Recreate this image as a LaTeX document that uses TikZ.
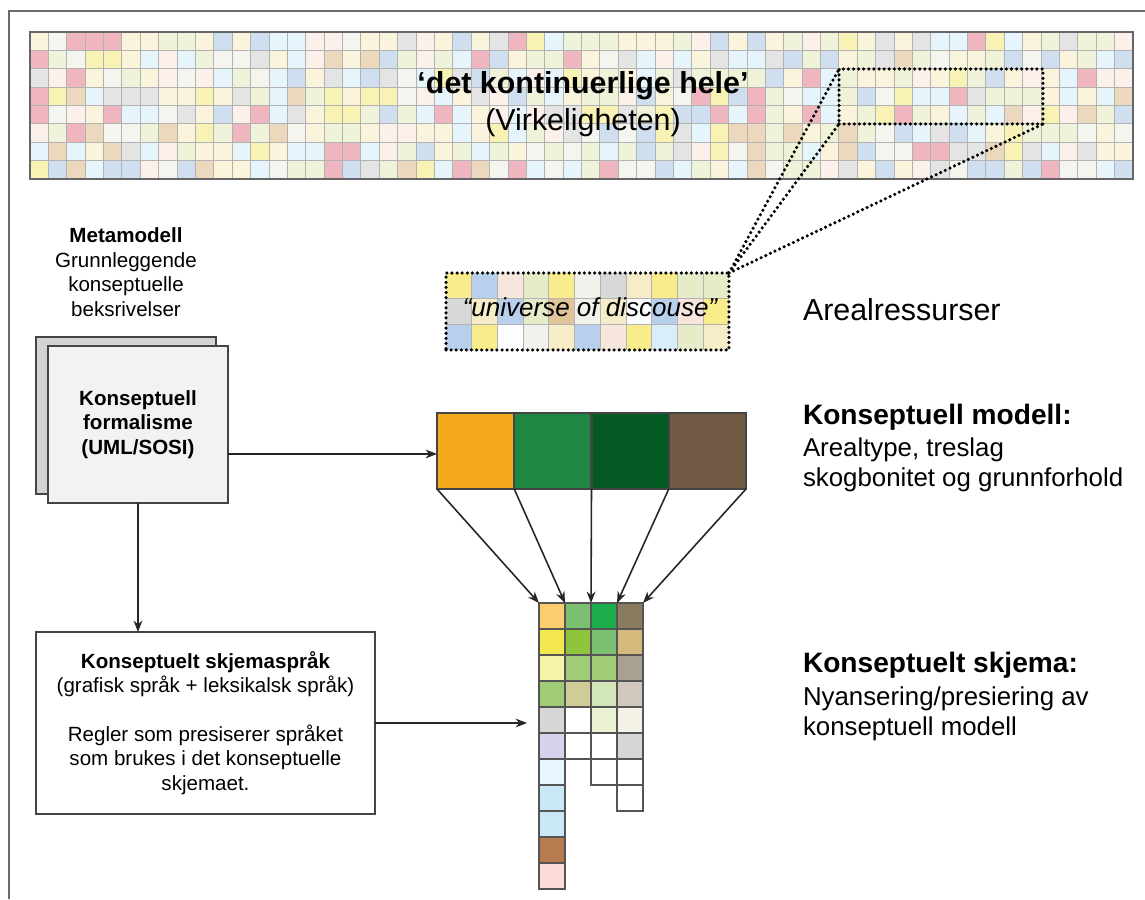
\documentclass[tikz,border=0pt]{standalone}
\usepackage{fontspec}
\setmainfont{Liberation Sans}
\usetikzlibrary{arrows.meta}
\definecolor{mc1}{HTML}{E6F4FC}
\definecolor{mc2}{HTML}{E4E4E4}
\definecolor{mc3}{HTML}{EEF3DA}
\definecolor{mc4}{HTML}{FBF4DC}
\definecolor{mc5}{HTML}{FBF0EA}
\definecolor{mc6}{HTML}{ECD8BC}
\definecolor{mc7}{HTML}{EFB6BF}
\definecolor{mc8}{HTML}{F8F2B4}
\definecolor{mc9}{HTML}{CFDFF0}
\definecolor{mc10}{HTML}{F4F5EE}
\definecolor{mc11}{HTML}{EEF3DA}
\definecolor{mc12}{HTML}{FBF4DC}
\definecolor{mc13}{HTML}{E6F4FC}
\definecolor{uyellow}{HTML}{F8EC8C}
\definecolor{ublue}{HTML}{B8D0EC}
\definecolor{upeach}{HTML}{F6E6DC}
\definecolor{ugreen}{HTML}{E6ECC8}
\definecolor{uoff}{HTML}{F2F2EC}
\definecolor{ugray}{HTML}{D8D8D8}
\definecolor{ucream}{HTML}{F6ECC8}
\definecolor{uwhite}{HTML}{FBFDFF}
\definecolor{utan}{HTML}{E0C49A}
\definecolor{ulblue}{HTML}{DAEEFA}
\definecolor{korange}{HTML}{F6A81E}
\definecolor{kgreen}{HTML}{1F8744}
\definecolor{kdgreen}{HTML}{045A23}
\definecolor{kbrown}{HTML}{735A45}
\definecolor{mdark}{HTML}{444444}
\definecolor{sgray}{HTML}{555555}
\definecolor{frame}{HTML}{6A6A6A}
\definecolor{s11}{HTML}{FBCD6E}
\definecolor{s12}{HTML}{F2E84E}
\definecolor{s13}{HTML}{F6F3AA}
\definecolor{s14}{HTML}{9FCC74}
\definecolor{s15}{HTML}{D6D6D6}
\definecolor{s16}{HTML}{D4D2EC}
\definecolor{s17}{HTML}{E6F6FC}
\definecolor{s18}{HTML}{C9E8F6}
\definecolor{s19}{HTML}{B87C4F}
\definecolor{s110}{HTML}{FBDADA}
\definecolor{s21}{HTML}{7BC070}
\definecolor{s22}{HTML}{8FC43C}
\definecolor{s24}{HTML}{D0CC96}
\definecolor{s31}{HTML}{1CAE4C}
\definecolor{s34}{HTML}{D2E6B8}
\definecolor{s35}{HTML}{EAF2D2}
\definecolor{s41}{HTML}{8A7A5E}
\definecolor{s42}{HTML}{D4B87C}
\definecolor{s43}{HTML}{A8A090}
\definecolor{s44}{HTML}{D0C8BC}
\definecolor{s45}{HTML}{F4F2E6}
\begin{document}
\begin{tikzpicture}[x=0.02cm,y=-0.02cm,
  mgrid/.style={draw=black!30,line width=0.5pt},
  mborder/.style={draw=black!60,line width=1.1pt},
  dots/.style={draw=black,line width=2pt,line cap=round,dash pattern=on 0pt off 2.9pt},
  mcell/.style={draw=mdark,line width=1.2pt,minimum width=1.545cm,minimum height=1.52cm,inner sep=0,outer sep=0,anchor=north west},
  scell/.style={draw=sgray,line width=0.9pt,minimum width=0.52cm,minimum height=0.52cm,inner sep=0,outer sep=0,anchor=north west},
  arr/.style={draw=black!85,line width=0.9pt,-{Stealth[length=6.5pt,width=5pt]}},
  box/.style={draw=mdark,line width=1.1pt,inner sep=0,outer sep=0,anchor=north west},
  lbl/.style={inner sep=0,outer sep=0},
  small/.style={font=\fontsize{11.7}{13.9}\selectfont},
  big/.style={font=\fontsize{17.3}{20}\selectfont},
  mid/.style={font=\fontsize{16}{18}\selectfont\bfseries},
  sub/.style={font=\fontsize{14.7}{17}\selectfont}]
\useasboundingbox (0,0) rectangle (1145,899);
% outer frame
\draw[frame,line width=1.2pt] (9,899) -- (9,11) -- (1145,11);
% mosaic
\pgfmathsetseed{4242}
\foreach \i in {0,...,59}{\foreach \j in {0,...,7}{%
  \pgfmathrandominteger{\rc}{1}{13}%
  \fill[mc\rc] ({30+\i*18.383},{32+\j*18.375}) rectangle ++(18.383,18.375);}}
\foreach \i in {0,...,60} \draw[mgrid] ({30+\i*18.383},32) -- ({30+\i*18.383},179);
\foreach \j in {0,...,8} \draw[mgrid] (30,{32+\j*18.375}) -- (1133,{32+\j*18.375});
\draw[mborder] (30,32) rectangle (1133,179);
\node[lbl,big,anchor=base] (title) at (583,93) {\bfseries ‘det kontinuerlige hele’};
\node[lbl,big,anchor=base] (virk) at (583,130) {(Virkeligheten)};
\node[dots,inner sep=0,outer sep=0,minimum width=4.08cm,minimum height=1.1cm,anchor=north west] (zr) at (839,69) {};
% universe of discourse
\foreach \c [count=\k from 0] in {uyellow,ublue,upeach,ugreen,uyellow,uoff,ugray,ucream,uyellow,ugreen,ugreen,
  ugray,ucream,ublue,ugreen,utan,uoff,ucream,uwhite,ublue,upeach,uyellow,
  ublue,uyellow,uwhite,uoff,ucream,ublue,upeach,uyellow,ulblue,ugreen,ucream}{%
  \pgfmathtruncatemacro{\cc}{mod(\k,11)}%
  \pgfmathtruncatemacro{\rr}{\k/11}%
  \fill[\c] ({446+\cc*25.727},{273+\rr*25.667}) rectangle ++(25.727,25.667);}
\foreach \i in {1,...,10} \draw[mgrid] ({446+\i*25.727},273) -- ({446+\i*25.727},350);
\foreach \j in {1,2} \draw[mgrid] (446,{273+\j*25.667}) -- (729,{273+\j*25.667});
\node[dots,inner sep=0,outer sep=0,minimum width=5.66cm,minimum height=1.54cm,anchor=north west] (uod) at (446,273) {};
\node[lbl,font=\fontsize{14.8}{17}\selectfont\itshape,anchor=base] (uodt) at (590,316) {“universe of discouse”};
\draw[dots] (uod.north east) -- (zr.north west);
\draw[dots] (uod.north east) -- (zr.south west);
\draw[dots] (uod.north east) -- (zr.south east);
% right labels
\node[lbl,big,anchor=base west] (areal) at (803,320) {Arealressurser};
\node[lbl,mid,anchor=base west] (kmt) at (803,424) {Konseptuell modell:};
\node[lbl,sub,anchor=base west] (km1) at (803,456) {Arealtype, treslag};
\node[lbl,sub,anchor=base west] (km2) at (803,486) {skogbonitet og grunnforhold};
\node[lbl,mid,anchor=base west] (kst) at (803,672) {Konseptuelt skjema:};
\node[lbl,sub,anchor=base west] (ks1) at (803,705) {Nyansering/presiering av};
\node[lbl,sub,anchor=base west] (ks2) at (803,735) {konseptuell modell};
% conceptual model
\node[mcell,fill=korange] (m1) at (437,413) {};
\node[mcell,fill=kgreen] (m2) at (514.25,413) {};
\node[mcell,fill=kdgreen] (m3) at (591.5,413) {};
\node[mcell,fill=kbrown] (m4) at (668.75,413) {};
% conceptual schema grid
\node[scell,fill=s11] (s1) at (539,603) {};
\node[scell,fill=s21] (s2) at (565,603) {};
\node[scell,fill=s31] (s3) at (591,603) {};
\node[scell,fill=s41] (s4) at (617,603) {};
\foreach \c [count=\k from 1] in {s12,s13,s14,s15,s16,s17,s18,s18,s19,s110}
  \node[scell,fill=\c] at (539,{603+\k*26}) {};
\foreach \c [count=\k from 1] in {s22,s14,s24,white,white}
  \node[scell,fill=\c] at (565,{603+\k*26}) {};
\foreach \c [count=\k from 1] in {s21,s14,s34,s35,white,white}
  \node[scell,fill=\c] at (591,{603+\k*26}) {};
\foreach \c [count=\k from 1] in {s42,s43,s44,s45,s15,white,white}
  \node[scell,fill=\c] at (617,{603+\k*26}) {};
\draw[arr] (m1.south west) -- (s1.north west);
\draw[arr] (m2.south west) -- (s2.north west);
\draw[arr] (m3.south west) -- (s3.north west);
\draw[arr] (m4.south west) -- (s4.north west);
\draw[arr] (m4.south east) -- (s4.north east);
% left side
\node[lbl,small,align=center,anchor=north] (meta) at (126,228) {\textbf{Metamodell}\\Grunnleggende\\konseptuelle\\beksrivelser};
\node[box,fill=black!17,minimum width=3.6cm,minimum height=3.14cm] (bbox) at (36,337) {};
\node[box,fill=black!5,minimum width=3.6cm,minimum height=3.14cm,small,align=center,font=\fontsize{11.7}{13.9}\selectfont\bfseries] (fbox) at (48,346) {Konseptuell\\formalisme\\(UML/SOSI)};
\node[box,fill=white,minimum width=6.78cm,minimum height=3.64cm,small,align=center] (lbox) at (36,632) {\textbf{Konseptuelt skjemaspråk}\\(grafisk språk + leksikalsk språk)\\[13.9pt]Regler som presiserer språket\\som brukes i det konseptuelle\\skjemaet.};
\coordinate (fa) at ([yshift=-0.59cm]fbox.east);
\draw[arr] (fa) -- (fa -| m1.west);
\draw[arr] (fbox.south) -- (fbox.south |- lbox.north);
\draw[arr,shorten >=0.24cm] (lbox.east) -- (lbox.east -| s1.west);
\end{tikzpicture}
\end{document}
